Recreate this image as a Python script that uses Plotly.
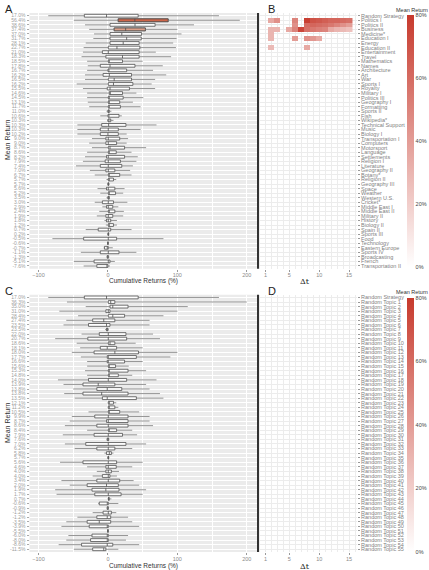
import plotly.graph_objects as go

W, H = 429, 570

# ---------------- Panel A / B data ----------------
topics_a = ["Random Strategy", "Politics I", "Politics II", "Business", "Medicine*", "Education I",
            "Energy", "Education II", "Entertainment", "Travel", "Mathematics", "Names",
            "Architecture", "Art", "War", "Sports I", "Royalty", "Military I", "Politics III",
            "Geography I", "Formatting", "Sports II", "Fish", "Wikipedia*", "Technical Support",
            "Music", "Biology I", "Transportation I", "Computers", "Motorsport", "Language",
            "Settlements", "Religion I", "Literature", "Geography II", "Botany*", "Religion II",
            "Geography III", "Space", "Weather", "Western U.S.", "Cricket*", "Middle East I",
            "Middle East II", "Military II", "History", "Biology II", "Spain II", "Sports III",
            "Food", "Technology", "Eastern Europe", "Sports IV", "Broadcasting", "French",
            "Transportation II"]
mean_a = [17.0, 56.4, 38.6, 37.4, 37.0, 31.7, 28.1, 22.7, 21.0, 18.3, 18.5, 17.8, 16.7, 16.2,
          16.5, 16.2, 15.5, 14.6, 14.5, 13.1, 11.7, 11.0, 10.6, 10.3, 10.3, 10.3, 10.2, 9.0, 9.0,
          8.7, 8.6, 8.2, 7.9, 7.4, 7.0, 6.7, 5.7, 5.7, 5.6, 5.2, 3.5, 3.0, 2.9, 2.4, 1.9, 1.8,
          1.2, 0.7, 0.2, -0.5, -0.6, -0.7, -1.1, -1.3, -5.1, -7.6]
lw_a = [-86, -49, -33, -27, -20, -21, -32, -35, -36, -38, -30, -29, -30, -33, -33, -45, -36, -30,
        -30, -29, -27, -2, -11, -1, -44, -44, -44, -23, -27, -23, -30, -33, -36, -46, -26, -19,
        -2, -1, -15, -11, -2, -19, -8, -12.5, -16, -5, -3, -32, -1, -80, -1, -6, -39, -2, -49, -35]
q1_a = [-34, 14.8, 3, 9, 3, 3, 3, 0.5, -8, -3, 0.5, -11, 0, -7, 0.5, 0.5, -1, 2, 0.5, 0.5, 0.5,
        0, 0, 0, -9, -11, -11, -3, -3, 0.5, 0.5, -2, -4, -11, -3, 0.5, 0.5, 0, -2, 0.5, 0, -8,
        -2, 0.5, -3, -2, 0.5, -14, 0, -35, -0.5, -5, -11, -1, -20, -16]
med_a = [-2, 38.8, 39, 25.5, 20, 27, 22, 13, 0.5, 21, 1, 3, 1, 2, 9, 8, 3, 2, 1, 1, 1, 0.5, 0.5,
         0.5, 1, 0.5, 0, 0.5, 0.5, 3, 1, 0.5, 0.5, 0.5, 0.5, 1, 1, 0.5, 0.5, 1, 0.5, 0.5, 0.5,
         1, 0.5, 0.5, 1, 0.5, 0.5, 0.5, 0, 0.5, 0.5, 0, 0.5, 0]
q3_a = [43.6, 86.8, 68, 54, 48.5, 48, 45, 46, 45, 45, 21, 39, 27, 34, 34, 36, 31, 21, 22, 17, 18,
        2, 16, 4, 26, 15, 15, 17, 12.5, 24, 12, 24, 18, 20, 10, 17, 8, 1, 10, 11, 2, 8, 7, 10,
        7, 4, 8, 4, 1, 12.5, 0.5, 0.5, 16, 0.5, 3, 0]
uw_a = [160, 190, 124, 100, 106, 99, 94, 98, 69, 91, 50, 79, 65, 84, 68, 63, 68, 41, 51, 36, 47,
        5, 20, 8, 70, 47, 27, 29, 27, 55, 34, 43, 41, 36, 32, 34, 12, 3, 24, 22, 3, 28, 15, 23,
        22, 13, 13, 34, 2, 80, 1, 7, 41, 2, 10, 3]
highlight_rows_a = [2, 4]
highlight_fill_a = ["#cc6448", "#dca089"]

# heatmap rows (Δt = 1..15), None = empty cell
dt_values = list(range(1, 16))
heat_politics_i = [None, 35, 45, None, None, 50, None, 78, 70, 68, 65, 62, 62, 60, 58]
heat_politics_ii = [None, None, None, None, None, 45, None, 60, 62, 60, 58, 55, 50, 45, 40]
heat_business = [None, 30, 30, None, 35, 50, 75, 58, 55, 52, 50, 35, 30, 28, 25]
heat_medicine = [None, 30, None, None, None, None, None, None, None, None, None, None, None, None, None]
heat_education_i = [None, 30, None, None, None, 40, None, 45, 42, 35, None, None, None, None, None]
heat_education_ii = [None, 28, None, None, None, None, None, 35, None, None, None, None, None, None, None]
heat_filled_rows = {"Politics I": heat_politics_i, "Politics II": heat_politics_ii,
                    "Business": heat_business, "Medicine*": heat_medicine,
                    "Education I": heat_education_i, "Education II": heat_education_ii}

# ---------------- Panel C / D data ----------------
topics_c = ["Random Strategy"] + [f"Random Topic {i}" for i in range(1, 56)]
mean_c = [17.0, 36.3, 35.0, 31.0, 28.4, 27.4, 23.5, 23.5, 22.0, 20.7, 18.6, 18.1, 18.0, 17.7,
          16.6, 15.6, 15.3, 14.8, 14.0, 13.9, 13.8, 13.8, 13.5, 12.1, 11.2, 10.5, 9.9, 8.7, 8.6,
          8.4, 7.9, 7.6, 7.0, 6.2, 5.8, 5.7, 5.6, 4.6, 4.0, 4.0, 3.4, 2.0, 1.9, 1.7, 0.7, -0.6,
          -0.9, -1.2, -1.2, -3.5, -3.9, -5.5, -6.0, -8.0, -8.6, -11.5]
lw_c = [-86, -59, -32, -70, -43, -60, -64, -4, -38, -76, -45, -40, -52, -39, -30, -30, -33, -30,
        -72, -64, -50, -63, -48, 0, 0, -28, -52, -55, -62, -30, -65, -2, -62, -48, -5, -1, -69,
        -30, -16, -22, -67, -55, -76, -74, 0, -14, -2, -22, -44, -60, -67, -1, -57, -60, -71, -49]
q1_c = [-34, 0.5, 3, -3, 0.5, -22, -28, -2, -12.5, -29, 0.5, -11, -20, -1, -1, 0.5, 0.5, 0.5,
        -28, -36, -16, -36, -8, 0.5, 0.5, 0.5, -19, -2, -16, 0.5, -20, -1, -32, -16, -2, 0, -36,
        -3, -3, -8, -16, -30, -23, -19, 0.5, -12.5, -1, -7, -16, -30, -27, -0.5, -23, -25, -38, -22]
med_c = [-2, 4, 7, 0.5, 7, -6, -2, -1, 0.5, 0.5, 3, -1, 10, 0.5, 0.5, 1, 1, 1, 0.5, -14, -1, -9,
         -1, 1, 1, 1, 0.5, 0.5, 0.5, 1, 0.5, 0, 0.5, 0.5, 2, 0.5, 0.5, 0.5, 0.5, 0.5, 0.5, -2,
         -3, 0.5, 1, 0, 0, 0.5, -1, -12.5, -1, 0, -1, -1, -1, -6]
q3_c = [43.6, 10, 29, 3, 24, 10, 3, 0, 26, 27, 10, 12.5, 44, 41, 24, 11, 29, 15, 27, 10, 20, 29,
        41, 8, 10, 17, 29, 29, 29, 12.5, 21, 1, 26, 10, 5, 1, 12.5, 12, 5, 3, 17, 15, 16, 19, 2,
        0.5, 0.5, 5, 4, 4, 0.5, 0.5, 0.5, 0.5, 7, -3]
uw_c = [160, 200, 115, 100, 80, 60, 60, 1, 65, 75, 40, 50, 100, 90, 50, 30, 55, 35, 70, 55, 60,
        75, 80, 12, 15, 45, 60, 60, 65, 35, 42, 2, 55, 35, 8, 2, 50, 35, 16, 13, 37, 45, 55, 50,
        5, 15, 1, 12, 29, 35, 45, 1, 29, 26, 45, 15]

x_ticks = [-100, 0, 100, 200]
x_minor = [-50, 50, 150]
cbar_ticks = [0, 20, 40, 60, 80]

# ---------------- geometry helpers ----------------
def px(x):
    return x / W

def py(y):
    return 1 - y / H

FONT = "Liberation Sans, Arial, sans-serif"
A_TOP, A_BOT = 13.0, 268.7
C_TOP, C_BOT = 294.7, 552.0
XL, XR = 29.5, 257.5        # box panels
HL, HR = 258.0, 356.5       # heatmap panels
CB_X = 407.0

fig = go.Figure()


def whiskers(lw, q1, q3, uw, xa, ya):
    xs, ys = [], []
    for i in range(len(lw)):
        r = i + 1
        xs += [lw[i], q1[i], None, q3[i], uw[i], None]
        ys += [r, r, None, r, r, None]
    fig.add_trace(go.Scatter(x=xs, y=ys, mode="lines", line=dict(color="#7a7a7a", width=0.8),
                             xaxis=xa, yaxis=ya, hoverinfo="skip", showlegend=False))


def boxes(rows, q1, med, q3, fill, xa, ya):
    fig.add_trace(go.Box(y=rows, q1=q1, median=med, q3=q3, lowerfence=q1, upperfence=q3,
                         orientation="h", width=0.62, fillcolor=fill, whiskerwidth=0,
                         line=dict(color="#4d4d4d", width=0.8), boxpoints=False,
                         xaxis=xa, yaxis=ya, hoverinfo="skip", showlegend=False))


rows = list(range(1, 57))
# Panel A
whiskers(lw_a, q1_a, q3_a, uw_a, "x", "y")
boxes(rows, q1_a, med_a, q3_a, "white", "x", "y")
for r, fc in zip(highlight_rows_a, highlight_fill_a):
    i = r - 1
    boxes([r], [q1_a[i]], [med_a[i]], [q3_a[i]], fc, "x", "y")
# Panel C
whiskers(lw_c, q1_c, q3_c, uw_c, "x3", "y3")
boxes(rows, q1_c, med_c, q3_c, "white", "x3", "y3")

# Heatmaps
z_b = []
for t in topics_a:
    z_b.append(heat_filled_rows.get(t, [None] * 15))
z_d = [[None] * 15 for _ in topics_c]

colorscale = [[0, "#ffffff"], [1, "#c73a2d"]]


def cbar(top_y, length):
    return dict(x=px(CB_X), xanchor="left", y=py(top_y), yanchor="top", len=length,
                lenmode="pixels", thickness=7, thicknessmode="pixels", outlinewidth=0,
                xpad=0, ypad=0, tickvals=cbar_ticks, ticktext=[f"{v}%" for v in cbar_ticks],
                ticks="", tickfont=dict(size=5.5, color="#444", family=FONT))


fig.add_trace(go.Heatmap(z=z_b, x=dt_values, y=rows, colorscale=colorscale, zmin=0, zmax=80,
                         xaxis="x2", yaxis="y2", colorbar=cbar(15, 252), hoverongaps=False))
fig.add_trace(go.Heatmap(z=z_d, x=dt_values, y=rows, colorscale=colorscale, zmin=0, zmax=80,
                         zauto=False, xaxis="x4", yaxis="y4", showscale=False,
                         hoverongaps=False))
# colour legend for the (empty) panel D
fig.add_trace(go.Scatter(x=[dt_values[0]], y=[rows[0]], mode="markers", xaxis="x4", yaxis="y4",
                         marker=dict(color=[0], colorscale=colorscale, cmin=0, cmax=80, size=1,
                                     opacity=0, showscale=True, colorbar=cbar(298, 254)),
                         hoverinfo="skip", showlegend=False))

tickfont_small = dict(size=5.5, color="#8a8a8a", family=FONT)


def box_xaxis(anchor):
    return dict(domain=[px(XL), px(XR)], range=[-113, 215.5], anchor=anchor,
                tickvals=x_ticks, ticks="outside", ticklen=2, tickcolor="#9a9a9a", tickwidth=0.6,
                tickfont=tickfont_small, showgrid=True, gridcolor="white", gridwidth=0.9,
                zeroline=False, showline=False, ticklabelstandoff=-1,
                minor=dict(tickvals=x_minor, showgrid=True, gridcolor="white", gridwidth=0.4, ticks=""))


def box_yaxis(anchor, top, bot, labels):
    return dict(domain=[py(bot), py(top)], range=[56.6, 0.4], anchor=anchor,
                tickvals=rows, ticktext=[f"{v:.1f}%" for v in labels], ticks="outside",
                ticklen=2, tickcolor="#aaaaaa", tickwidth=0.5,
                tickfont=dict(size=5, color="#a0a0a0", family=FONT),
                showgrid=True, gridcolor="white", gridwidth=0.6, zeroline=False)


def heat_xaxis(anchor):
    return dict(domain=[px(HL), px(HR)], range=[-0.25, 16.25], anchor=anchor,
                tickvals=[1, 5, 10, 15], ticks="outside", ticklen=2, tickcolor="#9a9a9a",
                tickwidth=0.6, tickfont=tickfont_small, showgrid=True, gridcolor="#ececec",
                gridwidth=0.5, zeroline=False, ticklabelstandoff=-1,
                minor=dict(dtick=1, tick0=0, showgrid=True, gridcolor="#ececec", gridwidth=0.5, ticks=""))


def heat_yaxis(anchor, top, bot, labels):
    return dict(domain=[py(bot), py(top)], range=[56.6, 0.4], anchor=anchor, side="right",
                tickvals=rows, ticktext=labels, ticks="outside", ticklen=2.5, tickcolor="#999999",
                tickwidth=0.5, tickfont=dict(size=5.5, color="#7f7f7f", family=FONT),
                showgrid=True, gridcolor="#ececec", gridwidth=0.5, zeroline=False)


fig.update_layout(
    width=W, height=H, margin=dict(l=0, r=0, t=0, b=0, autoexpand=False),
    paper_bgcolor="white", plot_bgcolor="white", showlegend=False,
    font=dict(family=FONT),
    xaxis=box_xaxis("y"), yaxis=box_yaxis("x", A_TOP, A_BOT, mean_a),
    xaxis2=heat_xaxis("y2"), yaxis2=heat_yaxis("x2", A_TOP, A_BOT, topics_a),
    xaxis3=box_xaxis("y3"), yaxis3=box_yaxis("x3", C_TOP, C_BOT, mean_c),
    xaxis4=heat_xaxis("y4"), yaxis4=heat_yaxis("x4", C_TOP, C_BOT, topics_c),
)

shapes = []
for xa, ya in [("x", "y"), ("x3", "y3")]:
    shapes.append(dict(type="rect", xref=f"{xa} domain", yref=f"{ya} domain", x0=0, x1=1, y0=0, y1=1,
                       fillcolor="#ebebeb", line=dict(width=0), layer="below"))
for top, bot in [(A_TOP, A_BOT), (C_TOP, C_BOT)]:
    shapes.append(dict(type="line", xref="paper", yref="paper", x0=px(HL), x1=px(HL),
                       y0=py(bot), y1=py(top), line=dict(color="black", width=1.6), layer="above"))
fig.update_layout(shapes=shapes)

ann = []
def text(x, y, s, size, color="#222", xanchor="center", angle=0, family=FONT):
    ann.append(dict(x=px(x), y=py(y), xref="paper", yref="paper", text=s, showarrow=False,
                    xanchor=xanchor, yanchor="middle", textangle=angle,
                    font=dict(size=size, color=color, family=family)))

text(3, 8.5, "A", 11, xanchor="left")
text(266, 8.5, "B", 11, xanchor="left")
text(3, 291, "C", 11, xanchor="left")
text(266, 291, "D", 11, xanchor="left")
for ytitle, ydt, ymr, ycb in [(280.5, 281.5, 140, 9.5), (565.5, 566, 423, 292)]:
    text((XL + XR) / 2, ytitle, "Cumulative Returns (%)", 6.5, "#333")
    text(305, ydt, "Δt", 8, "#222", family="DejaVu Serif, Liberation Serif, serif")
    text(7, ymr, "Mean Return", 7, "#333", angle=-90)
    text(412, ycb, "Mean Return", 5.5, "#333")
fig.update_layout(annotations=ann)

fig.write_html("out.html", config={"displayModeBar": False},
               post_script="document.body.style.margin='0px';document.body.style.padding='0px';"
                           "document.body.style.overflow='hidden';")
